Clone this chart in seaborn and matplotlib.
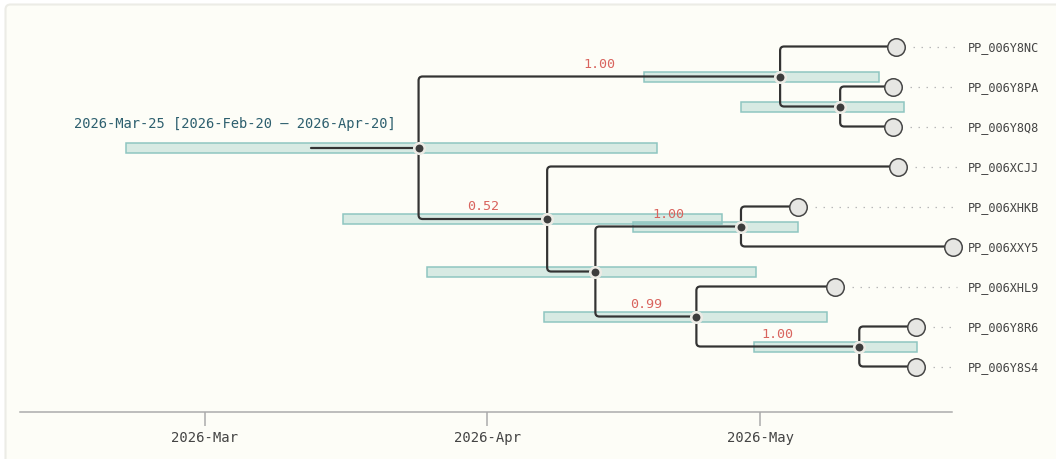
import numpy as np
import pandas as pd
import seaborn as sns
import matplotlib.pyplot as plt
import matplotlib.dates as mdates
from matplotlib.patches import FancyBboxPatch, PathPatch
from matplotlib.path import Path
from matplotlib.transforms import IdentityTransform

# dates are stored as days after 2026-03-01
base_date = pd.Timestamp("2026-03-01")

tip_names = ["PP_006Y8NC", "PP_006Y8PA", "PP_006Y8Q8", "PP_006XCJJ", "PP_006XHKB",
             "PP_006XXY5", "PP_006XHL9", "PP_006Y8R6", "PP_006Y8S4"]
tip_parents = ["n1", "n2", "n2", "n3", "n5", "n5", "n6", "n7", "n7"]
tip_days = [75.9, 75.6, 75.6, 76.2, 65.2, 82.2, 69.2, 78.1, 78.1]

node_names = ["root", "n1", "n2", "n3", "n4", "n5", "n6", "n7"]
node_parents = [None, "root", "n1", "root", "n3", "n4", "n4", "n6"]
node_days = [23.47, 63.2, 69.8, 37.6, 42.9, 58.9, 54.0, 71.9]
hpd_low = [-8.64, 48.2, 58.9, 15.2, 24.4, 47.0, 37.3, 60.3]
hpd_high = [49.67, 74.1, 76.8, 56.8, 60.6, 65.2, 68.3, 78.2]
node_support = [None, "1.00", None, "0.52", None, "1.00", "0.99", "1.00"]
root_stem_day = 11.6
root_label = "2026-Mar-25 [2026-Feb-20 – 2026-Apr-20]"


def to_num(days):
    return mdates.date2num(base_date + pd.to_timedelta(np.asarray(days, dtype=float), unit="D"))


# x (date number) and y (row) for every node
xpos = {}
ypos = {}
for name, d in zip(tip_names, tip_days):
    xpos[name] = to_num([d])[0]
for i, name in enumerate(tip_names):
    ypos[name] = i
for name, d in zip(node_names, node_days):
    xpos[name] = to_num([d])[0]

all_parents = dict(zip(tip_names, tip_parents))
all_parents.update({n: p for n, p in zip(node_names, node_parents) if p})


def kids(name):
    return [c for c, p in all_parents.items() if p == name]


def get_y(name):
    if name not in ypos:
        ypos[name] = np.mean([get_y(c) for c in kids(name)])
    return ypos[name]


for n in node_names:
    get_y(n)

sns.set_style("white")
plt.rcParams["font.family"] = ["DejaVu Sans Mono", "DejaVu Sans"]

fig = plt.figure(figsize=(10.56, 4.6), dpi=100, facecolor="white")
panel = FancyBboxPatch((5.5, -30), 1100, 460 - 5.5 + 30,
                       boxstyle="round,pad=0,rounding_size=5",
                       transform=IdentityTransform(),
                       facecolor="#fdfdf7", edgecolor="#ecece6", linewidth=1.5, zorder=-10)
fig.patches.append(panel)

ax = fig.add_axes([20 / 1056, 47 / 460, 932 / 1056, 413 / 460])
ax.set_facecolor("none")

px = 0.72          # points per pixel
day_px = 9.1       # pixels per day on the x axis
row_px = 40.0      # pixels per tip row

# HPD bars
lo = to_num(hpd_low)
hi = to_num(hpd_high)
ax.barh([ypos[n] for n in node_names], hi - lo, left=lo, height=0.25,
        color=(0.50, 0.75, 0.72, 0.30), edgecolor="#8fc6c1", linewidth=1.1, zorder=1)

# branches with slightly rounded elbows
branch_col = "#333333"
rx, ry = 4 / day_px, 4 / row_px
for child, parent in all_parents.items():
    x0, y0 = xpos[parent], ypos[parent]
    x1, y1 = xpos[child], ypos[child]
    sgn = 1 if y1 > y0 else -1
    verts = [(x0, y0), (x0, y1 - sgn * ry), (x0, y1), (x0 + rx, y1), (x1, y1)]
    codes = [Path.MOVETO, Path.LINETO, Path.CURVE3, Path.CURVE3, Path.LINETO]
    ax.add_patch(PathPatch(Path(verts, codes), facecolor="none", edgecolor=branch_col,
                           lw=2.2 * px, capstyle="butt", zorder=2))
ax.plot([to_num([root_stem_day])[0], xpos["root"]], [ypos["root"]] * 2,
        color=branch_col, lw=2.2 * px, zorder=2)

# dotted leaders to tip labels
xmin, xmax = to_num([-20.33, 82.09])
for name in tip_names:
    start = xpos[name] + 17 / day_px
    end = xmax + 5 / day_px
    if start < end - 1:
        ax.plot([start, end], [ypos[name]] * 2, color="#b8b8b8", lw=0.9,
                linestyle=(0, (1.2, 5.2)), zorder=1, clip_on=False)
    ax.annotate(name, xy=(1.0, ypos[name]), xycoords=("axes fraction", "data"),
                xytext=(16 * px, 0), textcoords="offset points",
                ha="left", va="center", fontsize=8.6, color="#444444",
                annotation_clip=False)

# node markers
tips_df = pd.DataFrame({"x": [xpos[n] for n in tip_names], "y": [ypos[n] for n in tip_names]})
nodes_df = pd.DataFrame({"x": [xpos[n] for n in node_names], "y": [ypos[n] for n in node_names]})
sns.scatterplot(data=tips_df, x="x", y="y", s=(17.5 * px) ** 2, color="#e6e6e3",
                edgecolor="#444444", linewidth=1.5 * px, zorder=4, ax=ax, clip_on=False)
sns.scatterplot(data=nodes_df, x="x", y="y", s=(10.5 * px) ** 2, color="#3d3d3d",
                edgecolor="#ecebe5", linewidth=2.6 * px, zorder=4, ax=ax, clip_on=False)

# support values
for name, parent, sup in zip(node_names, node_parents, node_support):
    if sup is None:
        continue
    mid = (xpos[name] + xpos[parent]) / 2
    ax.annotate(sup, xy=(mid, ypos[name]), xytext=(0, 13 * px), textcoords="offset points",
                ha="center", va="center", fontsize=9.6, color="#d9645e")

ax.annotate(root_label, xy=(xpos["root"], ypos["root"]), xytext=(-23 * px, 25 * px),
            textcoords="offset points", ha="right", va="center", fontsize=9.9,
            color="#2d5f6e")

ax.set_xlim(xmin, xmax)
ax.set_ylim(9.1375, -1.1875)
ax.xaxis.set_major_locator(mdates.MonthLocator())
ax.xaxis.set_major_formatter(mdates.DateFormatter("%Y-%b"))
ax.set_yticks([])
ax.set_xlabel("")
ax.set_ylabel("")
for side in ["top", "left", "right"]:
    ax.spines[side].set_visible(False)
ax.spines["bottom"].set_color("#aaaaaa")
ax.spines["bottom"].set_linewidth(1.5 * px)
ax.tick_params(axis="x", direction="out", length=14 * px, width=1.5 * px, color="#aaaaaa",
               pad=4 * px, labelsize=10, labelcolor="#444444", bottom=True)

fig.savefig("out.png", dpi=100, facecolor="white")
